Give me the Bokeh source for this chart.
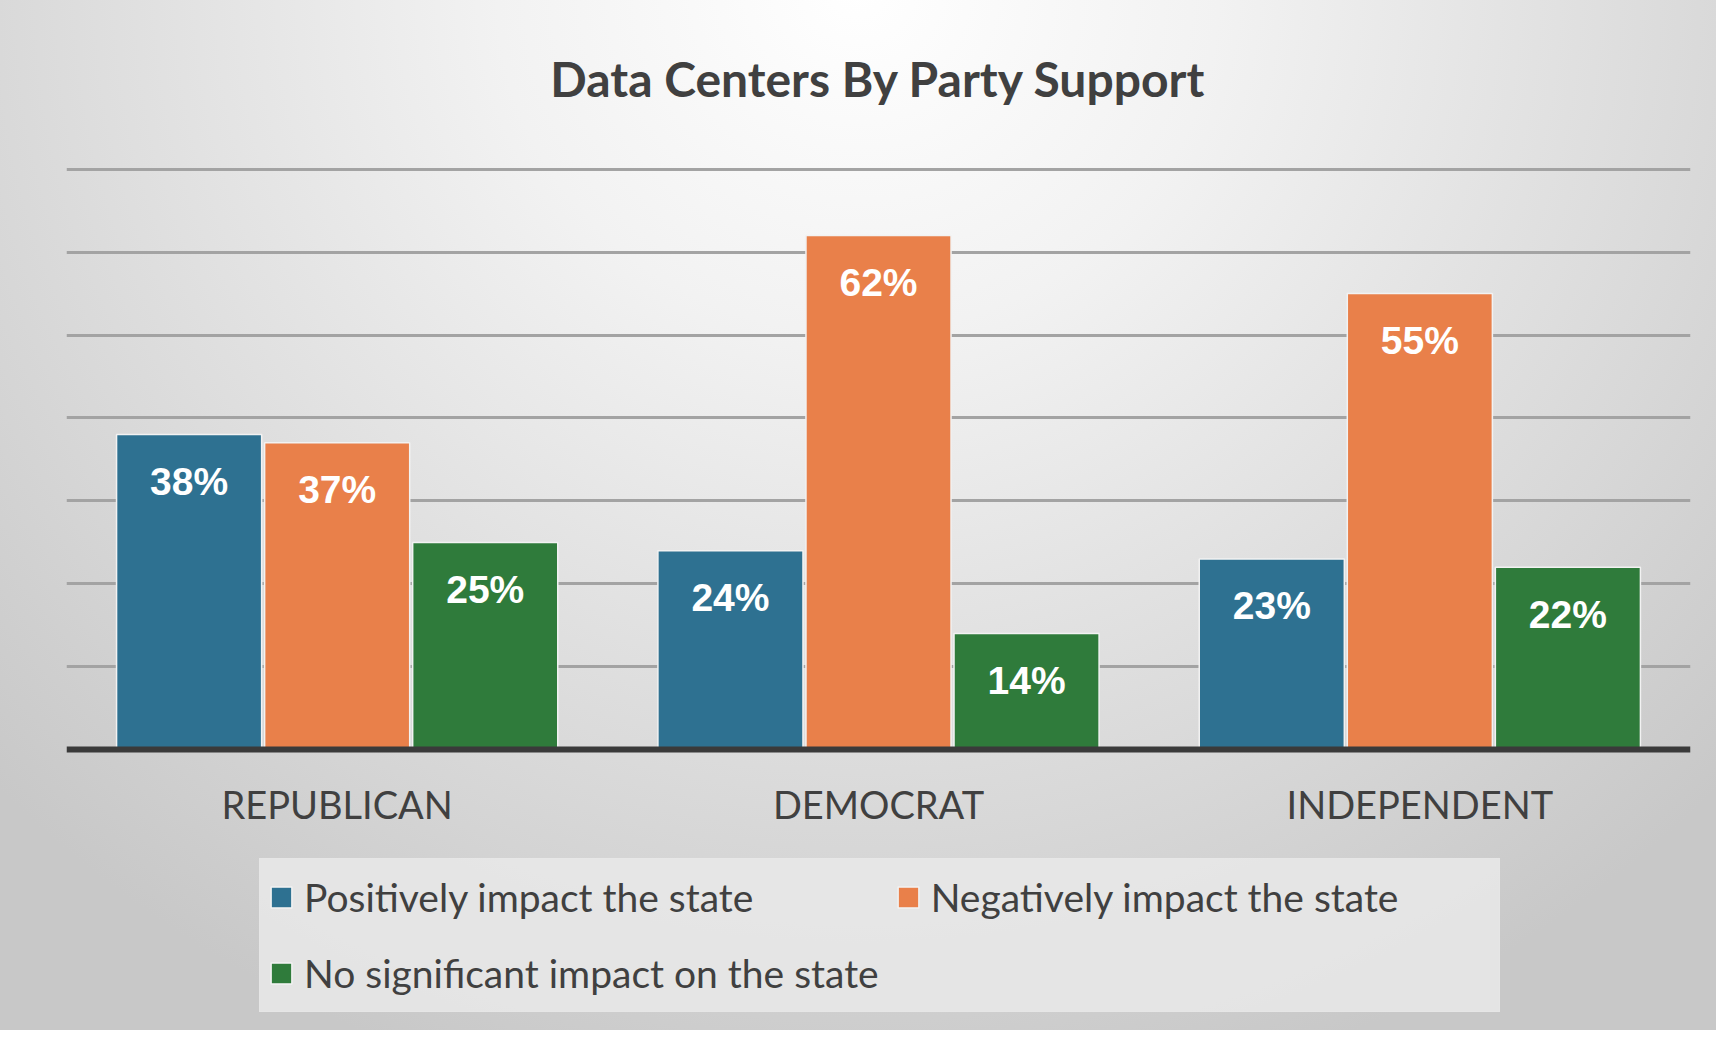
from bokeh.plotting import figure
from bokeh.models import ColumnDataSource, FactorRange, Range1d, FixedTicker, Legend, LegendItem
from bokeh.transform import dodge
from bokeh.core.properties import value
from bokeh.embed import file_html
from bokeh.resources import INLINE

title_text = "Data Centers By Party Support"
parties = ["REPUBLICAN", "DEMOCRAT", "INDEPENDENT"]
series_names = ["Positively impact the state",
                "Negatively impact the state",
                "No significant impact on the state"]
positive = [38, 24, 23]
negative = [37, 62, 55]
no_impact = [25, 14, 22]
grid_ticks = [10, 20, 30, 40, 50, 60, 70]

colors = ["#2e7191", "#e9804a", "#2f7b3b"]
offsets = [-0.2735, 0.0, 0.2735]

src = ColumnDataSource(dict(
    party=parties,
    pos=positive, neg=negative, non=no_impact,
    pos_l=[f"{v}%" for v in positive],
    neg_l=[f"{v}%" for v in negative],
    non_l=[f"{v}%" for v in no_impact],
))

# y range extends below zero to leave room (inside the frame) for the
# category labels and the legend
p = figure(x_range=FactorRange(*parties, range_padding=0),
           y_range=Range1d(-32.9, 70.45),
           width=1716, height=1041,
           output_backend="svg", toolbar_location=None,
           min_border_left=66, min_border_right=26,
           min_border_top=175, min_border_bottom=8,
           title=title_text)

p.styles = {"margin-top": "-11px",
            "background": "radial-gradient(ellipse 70% 110% at 50% 0%, #ffffff 0%, #f2f2f2 30%, #e0e0e0 60%, #c8c8c8 100%)"}
p.border_fill_color = None
p.background_fill_color = None
p.outline_line_color = None

p.title.align = "center"
p.title.text_font = "Lato"
p.title.text_font_style = "bold"
p.title.text_font_size = "48px"
p.title.text_color = "#404040"
p.title.standoff = 117

renderers = []
for col, off, color in zip(["pos", "neg", "non"], offsets, colors):
    r = p.vbar(x=dodge("party", off, range=p.x_range), top=col, width=0.268,
               source=src, fill_color=color, line_color="#f2f2f2", line_width=1.5)
    renderers.append(r)
    p.text(x=dodge("party", off, range=p.x_range), y=col, text=col + "_l",
           source=src, y_offset=47, text_align="center", text_baseline="middle",
           text_color="white", text_font=value("Liberation Sans"),
           text_font_style="bold", text_font_size="39px")

p.xgrid.grid_line_color = None
p.ygrid.ticker = FixedTicker(ticks=grid_ticks)
p.ygrid.grid_line_color = "#a3a3a3"
p.ygrid.grid_line_width = 3

p.yaxis.visible = False
xa = p.xaxis[0]
xa.fixed_location = 0
xa.axis_line_color = "#3a3a3a"
xa.axis_line_width = 6
xa.major_tick_line_color = None
xa.minor_tick_line_color = None
xa.major_label_text_font = "Lato"
xa.major_label_text_font_size = "38px"
xa.major_label_text_color = "#404040"
xa.major_label_standoff = 25

items = [LegendItem(label=n, renderers=[r]) for n, r in zip(series_names, renderers)]
legend = Legend(items=items, location=(193, 10), orientation="horizontal", ncols=2,
                label_text_font="Lato", label_text_font_size="39px",
                label_text_color="#404040",
                label_width=560, label_height=60,
                glyph_width=26, glyph_height=26,
                label_standoff=10, spacing=16, padding=8, margin=0,
                background_fill_color="#e9e9e9", background_fill_alpha=0.85,
                border_line_color="#e6e6e6", border_line_alpha=0.85, border_line_width=1)
p.add_layout(legend)

open("out.html", "w").write(file_html(p, INLINE))
